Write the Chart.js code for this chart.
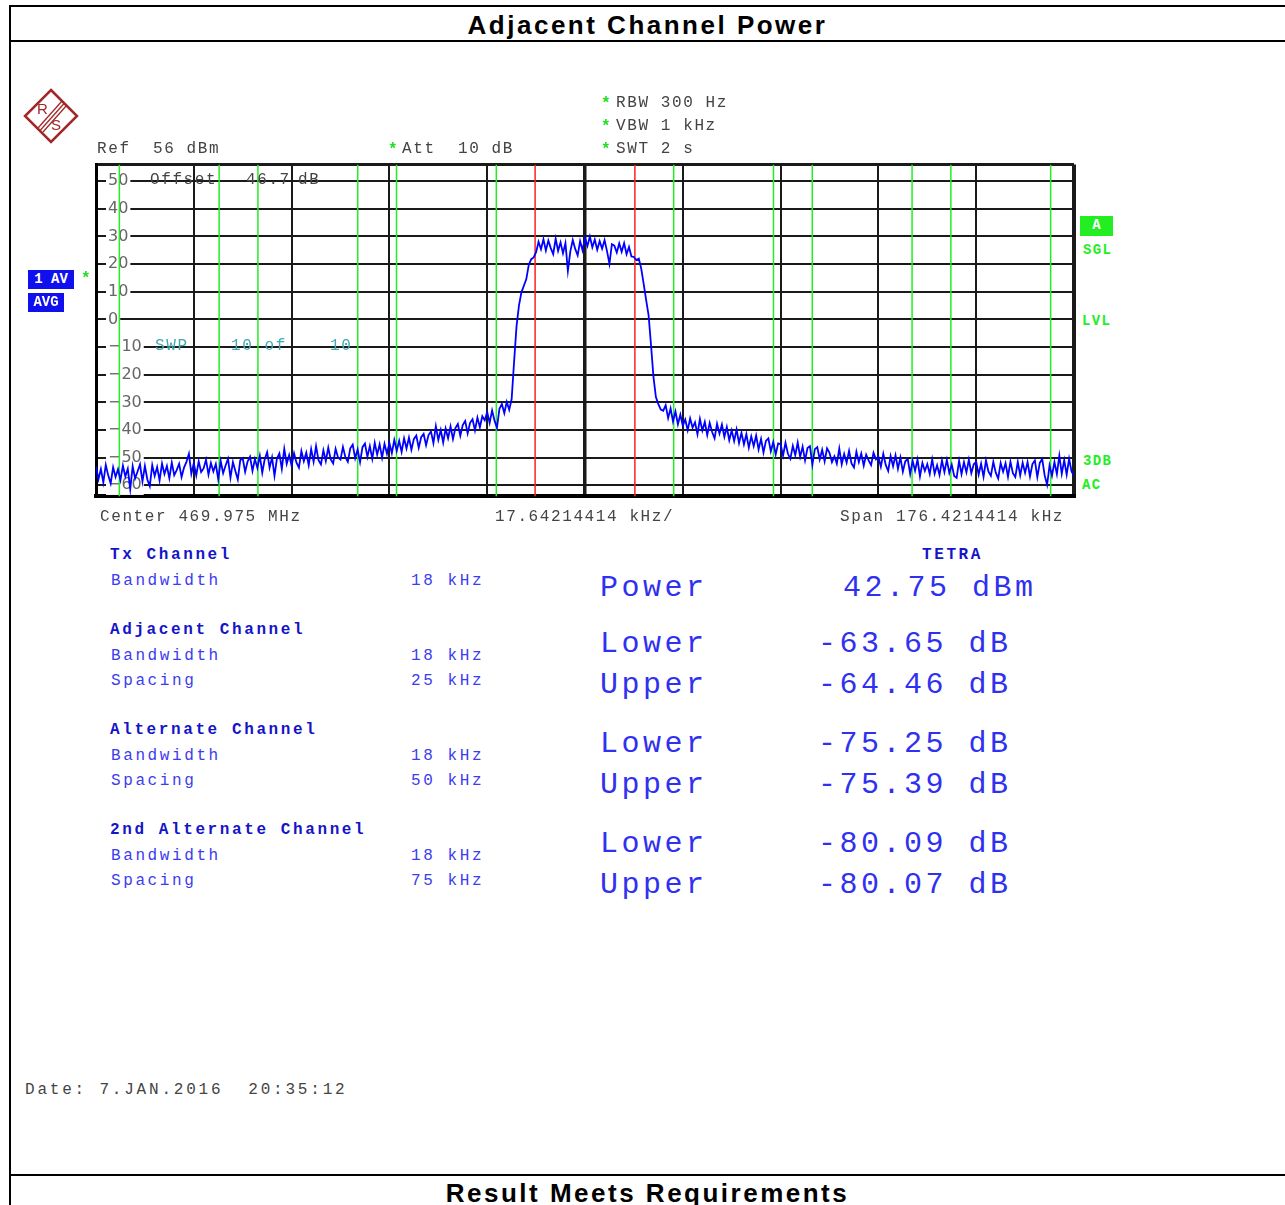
<!DOCTYPE html>
<html>
<head>
<meta charset="utf-8">
<title>Adjacent Channel Power</title>
<script src="https://cdn.jsdelivr.net/npm/chart.js@4.4.1/dist/chart.umd.min.js"></script>
<style>
  body { margin: 0; width: 1285px; height: 1205px; overflow: hidden; background: #fff; position: relative; }
  .ln { position: absolute; background: #000; }
  .t { position: absolute; white-space: pre; line-height: 1; font-family: 'Liberation Mono', 'DejaVu Sans Mono', monospace; }
  .g { font-size: 16px; letter-spacing: 1.6px; color: #444; }
  .st { font-size: 16px; color: #22dd22; font-weight: bold; }
  .tl { font-size: 16px; letter-spacing: 1.6px; color: #44a8b0; }
  .hb { font-size: 16px; letter-spacing: 2.6px; color: #1414c8; font-weight: bold; }
  .hn { font-size: 16px; letter-spacing: 2.6px; color: #3c3cf0; }
  .big { font-size: 30px; letter-spacing: 3.5px; color: #3030f0; }
  .gr { font-size: 14px; letter-spacing: 1.4px; color: #22ee22; font-weight: bold; }
  .box { position: absolute; color: #fff; font: bold 14px 'Liberation Mono', monospace; line-height: 19px; text-align: center; white-space: pre; }
  .head { position: absolute; left: 10px; width: 1275px; text-align: center; line-height: 1;
          font-family: 'Liberation Sans Narrow', 'Liberation Sans', Arial, sans-serif; font-weight: bold;
          font-size: 26px; letter-spacing: 2.5px; color: #000; }
  #acp { position: absolute; }
</style>
</head>
<body>
<canvas id="acp"></canvas>

<!-- rahmen -->
<div class="ln" style="left:9px;top:5px;width:1276px;height:2px"></div>
<div class="ln" style="left:9px;top:40px;width:1276px;height:2px"></div>
<div class="ln" style="left:9px;top:1174px;width:1276px;height:2px"></div>
<div class="ln" style="left:9px;top:5px;width:2px;height:1200px"></div>
<div class="head" style="top:12px">Adjacent Channel Power</div>
<div class="head" style="top:1180px">Result Meets Requirements</div>

<!-- logo -->
<svg style="position:absolute;left:22px;top:87px" width="60" height="60" viewBox="0 0 60 60">
  <polygon points="29,3 55,29 29,55 3,29" fill="none" stroke="#a02828" stroke-width="2.5"/>
  <g stroke="#a02828" stroke-width="1.3">
    <line x1="40" y1="14" x2="16" y2="41"/>
    <line x1="42.5" y1="16" x2="18.5" y2="43"/>
    <line x1="45" y1="18" x2="21" y2="45"/>
  </g>
  <text x="15" y="27" font-family="Liberation Sans" font-size="15" fill="#a02828">R</text>
  <text x="29" y="43" font-family="Liberation Sans" font-size="15" fill="#a02828">S</text>
</svg>

<!-- kopfzeilen -->
<div class="t g" style="left:97px;top:141px">Ref  56 dBm</div>
<div class="t st" style="left:388px;top:142px">*</div>
<div class="t g" style="left:402px;top:141px">Att  10 dB</div>
<div class="t st" style="left:601px;top:96px">*</div>
<div class="t g" style="left:616px;top:95px">RBW 300 Hz</div>
<div class="t st" style="left:601px;top:119px">*</div>
<div class="t g" style="left:616px;top:118px">VBW 1 kHz</div>
<div class="t st" style="left:601px;top:142px">*</div>
<div class="t g" style="left:616px;top:141px">SWT 2 s</div>

<div class="t g" style="left:150px;top:172px">Offset</div>
<div class="t g" style="left:246px;top:172px">46.7</div>
<div class="t g" style="left:298px;top:172px">dB</div>
<div class="t tl" style="left:155px;top:338px">SWP</div>
<div class="t tl" style="left:231px;top:338px">10 of</div>
<div class="t tl" style="left:330px;top:338px">10</div>

<div class="box" style="left:28px;top:270px;width:46px;height:19px;background:#1010ee">1 AV</div>
<div class="box" style="left:28px;top:293px;width:36px;height:19px;background:#1010ee">AVG</div>
<div class="t st" style="left:81px;top:271px">*</div>

<div class="box" style="left:1080px;top:216px;width:33px;height:20px;background:#22ee22">A</div>
<div class="t gr" style="left:1083px;top:243px">SGL</div>
<div class="t gr" style="left:1082px;top:314px">LVL</div>
<div class="t gr" style="left:1083px;top:454px">3DB</div>
<div class="t gr" style="left:1082px;top:478px">AC</div>

<div class="t g" style="left:100px;top:509px">Center 469.975 MHz</div>
<div class="t g" style="left:495px;top:509px">17.64214414 kHz/</div>
<div class="t g" style="left:840px;top:509px">Span 176.4214414 kHz</div>

<!-- tabelle -->
<div class="t hb" style="left:110px;top:547px">Tx Channel</div>
<div class="t hb" style="left:922px;top:547px">TETRA</div>
<div class="t hn" style="left:111px;top:573px">Bandwidth</div>
<div class="t hn" style="left:411px;top:573px">18 kHz</div>
<div class="t big" style="left:600px;top:573px">Power</div>
<div class="t big" style="left:843px;top:573px">42.75 dBm</div>

<div class="t hb" style="left:110px;top:622px">Adjacent Channel</div>
<div class="t hn" style="left:111px;top:648px">Bandwidth</div>
<div class="t hn" style="left:411px;top:648px">18 kHz</div>
<div class="t hn" style="left:111px;top:673px">Spacing</div>
<div class="t hn" style="left:411px;top:673px">25 kHz</div>
<div class="t big" style="left:600px;top:629px">Lower</div>
<div class="t big" style="left:818px;top:629px">-63.65 dB</div>
<div class="t big" style="left:600px;top:670px">Upper</div>
<div class="t big" style="left:818px;top:670px">-64.46 dB</div>

<div class="t hb" style="left:110px;top:722px">Alternate Channel</div>
<div class="t hn" style="left:111px;top:748px">Bandwidth</div>
<div class="t hn" style="left:411px;top:748px">18 kHz</div>
<div class="t hn" style="left:111px;top:773px">Spacing</div>
<div class="t hn" style="left:411px;top:773px">50 kHz</div>
<div class="t big" style="left:600px;top:729px">Lower</div>
<div class="t big" style="left:818px;top:729px">-75.25 dB</div>
<div class="t big" style="left:600px;top:770px">Upper</div>
<div class="t big" style="left:818px;top:770px">-75.39 dB</div>

<div class="t hb" style="left:110px;top:822px">2nd Alternate Channel</div>
<div class="t hn" style="left:111px;top:848px">Bandwidth</div>
<div class="t hn" style="left:411px;top:848px">18 kHz</div>
<div class="t hn" style="left:111px;top:873px">Spacing</div>
<div class="t hn" style="left:411px;top:873px">75 kHz</div>
<div class="t big" style="left:600px;top:829px">Lower</div>
<div class="t big" style="left:818px;top:829px">-80.09 dB</div>
<div class="t big" style="left:600px;top:870px">Upper</div>
<div class="t big" style="left:818px;top:870px">-80.07 dB</div>

<div class="t g" style="left:25px;top:1082px;letter-spacing:2.8px">Date: 7.JAN.2016  20:35:12</div>

<script>
// Achsen
var spanKHz = 176.4214414;
var divKHz = 17.64214414;
var xDiv = [-5, -4, -3, -2, -1, 0, 1, 2, 3, 4, 5];
var yMin = -64, yMax = 56;
var yTickVals = [-64, -60, -50, -40, -30, -20, -10, 0, 10, 20, 30, 40, 50, 56];
var yTickLabels = ['', '\u221260', '\u221250', '\u221240', '\u221230', '\u221220', '\u221210', '0', '10', '20', '30', '40', '50', ''];

// Kanalgrenzen (kHz relativ zur Mitte)
var txEdges = [-9, 9];
var adjEdges = [-34, -16, 16, 34];
var altEdges = [-59, -41, 41, 59];
var alt2Edges = [-84, -66, 66, 84];

// Messkurve (dBm), 401 Punkte ueber den Span
var trace = [
  -53.2,-57.8,-54.1,-58.9,-52.6,-56.4,-59.3,-53.5,-57.0,-54.2,-58.1,-52.9,-56.8,-54.0,-61.4,-53.1,-57.5,-55.0,-52.4,-58.6,
  -53.0,-57.9,-60.3,-52.7,-56.6,-53.4,-58.2,-52.1,-55.9,-53.0,-57.4,-51.8,-56.3,-54.5,-52.2,-57.0,-53.6,-51.5,-48.6,-55.8,
  -52.0,-56.4,-51.3,-55.2,-53.9,-50.7,-56.1,-51.9,-55.0,-52.3,-57.8,-51.2,-55.6,-52.8,-50.4,-57.2,-51.6,-54.8,-57.9,-50.9,
  -50.2,-55.1,-51.4,-49.6,-54.8,-50.5,-53.7,-49.3,-55.4,-50.6,-48.0,-53.6,-49.9,-56.6,-50.3,-48.5,-54.0,-46.8,-52.2,-49.1,
  -52.9,-48.4,-51.8,-53.6,-47.6,-51.3,-48.2,-52.7,-46.9,-51.5,-45.8,-50.9,-52.4,-47.3,-51.2,-46.4,-50.6,-52.1,-46.8,-49.9,
  -50.7,-46.1,-49.8,-51.5,-46.6,-45.3,-50.2,-47.0,-51.6,-46.2,-44.9,-49.7,-45.8,-50.4,-44.6,-48.9,-45.2,-50.0,-45.0,-48.6,
  -44.7,-48.4,-43.6,-47.5,-43.9,-47.9,-43.0,-46.7,-42.7,-47.1,-43.3,-42.0,-46.4,-42.6,-41.4,-45.5,-41.8,-40.5,-44.7,-38.6,
  -43.6,-40.0,-44.5,-39.5,-43.0,-38.7,-43.3,-39.3,-37.8,-42.1,-38.2,-36.7,-41.2,-37.4,-36.1,-40.1,-35.5,-39.0,-35.0,-36.5,
  -33.5,-37.4,-32.9,-36.6,-39.2,-32.3,-30.6,-33.9,-29.8,-32.7,-28.8,-15.3,-2.4,5.1,9.8,12.2,14.6,19.7,21.8,22.4,
  24.3,28.1,25.4,29.0,24.9,28.5,25.8,23.6,29.2,24.8,27.9,23.9,27.6,17.6,24.6,28.7,25.5,23.2,28.3,25.0,
  29.5,26.6,30.0,26.1,28.9,25.2,28.3,25.6,28.7,24.7,20.1,27.2,26.7,24.2,27.5,24.5,27.6,23.6,26.2,22.8,
  22.6,21.5,22.0,18.4,12.9,7.1,1.6,-9.2,-20.8,-28.1,-30.6,-32.6,-33.0,-31.0,-35.7,-32.2,-36.9,-33.3,-37.9,-34.4,
  -38.4,-36.2,-40.1,-35.8,-39.1,-37.2,-41.5,-36.0,-40.2,-37.1,-41.8,-37.4,-40.7,-43.0,-37.7,-41.3,-38.0,-42.5,-38.9,-43.7,
  -40.1,-44.0,-39.8,-44.7,-41.0,-45.2,-41.5,-46.4,-42.3,-45.8,-42.0,-47.0,-43.2,-48.1,-43.9,-43.0,-47.7,-44.3,-48.8,-44.8,
  -45.1,-49.3,-44.6,-48.6,-50.4,-45.7,-49.1,-44.5,-49.7,-46.0,-51.0,-46.5,-45.8,-52.5,-46.9,-46.2,-50.6,-47.1,-51.3,-46.6,
  -48.2,-51.6,-49.5,-52.2,-46.7,-52.4,-48.6,-51.8,-47.5,-52.1,-53.5,-47.8,-51.6,-48.5,-52.9,-48.9,-51.0,-52.7,-48.2,-50.6,
  -49.7,-53.3,-48.6,-52.6,-54.8,-49.4,-53.1,-49.1,-54.0,-49.9,-55.1,-51.3,-50.5,-55.9,-51.1,-54.7,-50.7,-56.8,-51.9,-54.8,
  -52.3,-55.9,-50.6,-55.8,-52.7,-56.3,-51.0,-55.2,-50.8,-55.5,-52.5,-56.6,-57.3,-51.1,-55.9,-51.6,-55.3,-50.7,-55.6,-52.4,
  -51.5,-56.1,-52.2,-56.9,-51.0,-55.0,-56.6,-51.5,-55.4,-57.5,-51.9,-55.1,-52.0,-56.9,-51.4,-55.6,-57.0,-51.5,-56.4,-51.8,
  -55.5,-51.6,-56.8,-52.3,-51.0,-57.0,-51.9,-50.5,-56.4,-59.8,-52.8,-56.5,-51.6,-55.9,-49.3,-55.8,-50.9,-56.1,-50.4,-55.0,-56.6
];

function tracePoints() {
  var step = spanKHz / (trace.length - 1);
  return trace.map(function (v, i) { return { x: -spanKHz / 2 + i * step, y: v }; });
}

// senkrechte Kanallinien, mit null getrennt
function edgePoints(edges) {
  var pts = [];
  edges.forEach(function (e) {
    pts.push({ x: e, y: yMax }, { x: e, y: yMin }, { x: e, y: null });
  });
  return pts;
}

function makeConfig() {
  return {
    type: 'line',
    data: {
      datasets: [{
        data: tracePoints(),
        borderColor: '#0000ff',
        borderWidth: 1.8,
        pointRadius: 0,
        tension: 0
      }, {
        data: edgePoints(txEdges),
        borderColor: '#ff2020',
        borderWidth: 1.5,
        pointRadius: 0
      }, {
        data: edgePoints(adjEdges.concat(altEdges, alt2Edges)),
        borderColor: '#22ee22',
        borderWidth: 1.5,
        pointRadius: 0
      }]
    },
    options: {
      responsive: false,
      animation: false,
      layout: { padding: { left: 4, right: 4, top: 4, bottom: 4 } },
      plugins: { legend: { display: false }, tooltip: { enabled: false } },
      scales: {
        x: {
          type: 'linear',
          min: -spanKHz / 2,
          max: spanKHz / 2,
          afterBuildTicks: function (s) { s.ticks = xDiv.map(function (k) { return { value: k * divKHz }; }); },
          ticks: { display: false },
          grid: {
            color: '#1a1a1a',
            drawTicks: false,
            lineWidth: function (c) { return c.index === 5 ? 3.5 : (c.index === 10 ? 4 : (c.index === 0 ? 3 : 2)); }
          },
          border: { display: true, color: '#000', width: 4 }
        },
        y: {
          min: yMin,
          max: yMax,
          afterBuildTicks: function (s) { s.ticks = yTickVals.map(function (v) { return { value: v }; }); },
          ticks: {
            mirror: true,
            padding: 12,
            color: '#666',
            font: { family: 'DejaVu Sans', size: 16 },
            callback: function (v, i) { return yTickLabels[i]; },
            showLabelBackdrop: function (c) { return c.index > 0 && c.index < yTickVals.length - 1; },
            backdropColor: '#ffffff',
            backdropPadding: { left: 2, right: 2, top: 0, bottom: 0 }
          },
          grid: {
            color: '#1a1a1a',
            drawTicks: false,
            lineWidth: function (c) { return c.index === 0 ? 4 : (c.index === yTickVals.length - 1 ? 3 : 2); }
          },
          border: { display: true, color: '#000', width: 3 }
        }
      }
    }
  };
}

var cv = document.getElementById('acp');
function build(w, h) {
  cv.width = w; cv.height = h;
  cv.style.width = w + 'px'; cv.style.height = h + 'px';
  return new Chart(cv.getContext('2d'), makeConfig());
}

// erst messen, dann so skalieren, dass die Plotflaeche 978 x 332 ist
var w0 = 1000, h0 = 380;
var chart = build(w0, h0);
var a = chart.chartArea;
var w1 = Math.round(w0 + 978 - (a.right - a.left));
var h1 = Math.round(h0 + 332 - (a.bottom - a.top));
chart.destroy();
chart = build(w1, h1);
var b = chart.chartArea;
cv.style.left = Math.round(96 - b.left) + 'px';
cv.style.top = Math.round(165 - b.top) + 'px';
</script>
</body>
</html>
